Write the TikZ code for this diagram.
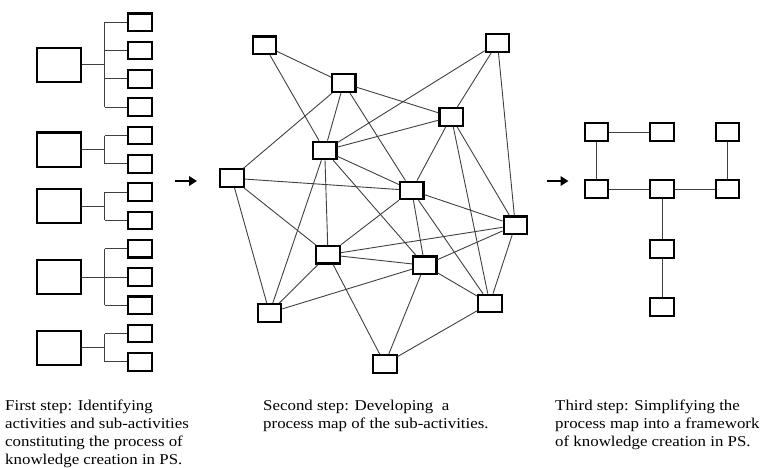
\documentclass[tikz,border=0pt]{standalone}
\usepackage{fontspec}
\setmainfont{Liberation Serif}[FakeStretch=1.125]
\usetikzlibrary{arrows.meta}
\begin{document}
\begin{tikzpicture}[x=1pt,y=-1pt,
  bigbox/.style={draw=black, line width=2.1pt, fill=white, minimum width=44.3pt, minimum height=34.3pt, inner sep=0pt},
  smallbox/.style={draw=black, line width=2.1pt, fill=white, minimum width=23.5pt, minimum height=17.6pt, inner sep=0pt},
  link/.style={draw=black!75, line width=0.9pt},
  stepArrow/.style={line width=2.8pt, -{Triangle[length=8pt,width=9.5pt]}},
  caption/.style={anchor=north west, align=left, inner sep=0pt, font=\fontsize{15}{18}\selectfont}]
\useasboundingbox (0,0) rectangle (769,467);

% ---------- activities and sub-activities ----------
\foreach \i/\y in {1/22.3,2/50.6,3/78.9,4/107.2,5/135.5,6/163.8,7/192.1,8/220.4,9/248.7,10/277.0,11/305.3,12/333.6,13/361.9}
  \node[smallbox] (s\i) at (140,\y) {};
\node[bigbox] (b1) at (59,64.75) {};
\node[bigbox] (b2) at (59,149.65) {};
\node[bigbox] (b3) at (59,206.25) {};
\node[bigbox] (b4) at (59,277.0) {};
\node[bigbox] (b5) at (59,347.75) {};

\foreach \b/\first/\last in {b1/1/4,b2/5/6,b3/7/8,b4/9/11,b5/12/13}{
  \draw[link] (\b.east) -- ++(22.7,0) coordinate (\b j);
  \draw[link] (\b j |- s\first.west) -- (\b j |- s\last.west);
  \foreach \k in {\first,...,\last}
    \draw[link] (\b j |- s\k.west) -- (s\k.west);
}

% ---------- step arrows ----------
\coordinate (arrA1) at (175,181);
\coordinate (arrA2) at (197,181);
\coordinate (arrB1) at (546.5,181);
\coordinate (arrB2) at (568.5,181);
\draw[stepArrow] (arrA1) -- (arrA2);
\draw[stepArrow] (arrB1) -- (arrB2);

% ---------- process map ----------
\node[smallbox] (A) at (264.3,45.3) {};
\node[smallbox] (B) at (343.7,83.2) {};
\node[smallbox] (C) at (324.7,150.5) {};
\node[smallbox] (D) at (231.8,178.2) {};
\node[smallbox] (E) at (497.5,42.8) {};
\node[smallbox] (F) at (451.2,116.8) {};
\node[smallbox] (G) at (411.7,190.4) {};
\node[smallbox] (H) at (515.3,225.3) {};
\node[smallbox] (I) at (424.7,265.3) {};
\node[smallbox] (J) at (489.8,303.5) {};
\node[smallbox] (K) at (384.8,363.9) {};
\node[smallbox] (L) at (328,254.7) {};
\node[smallbox] (M) at (269.5,312.8) {};

\foreach \u/\v in {A/B,A/C,B/C,B/D,B/F,B/G,C/E,C/F,C/G,C/L,C/M,C/I,
                   D/G,D/M,D/L,E/F,E/H,F/G,F/J,F/H,G/H,G/I,G/J,G/L,
                   H/I,H/J,H/L,I/J,I/K,I/L,I/M,J/K,K/L,L/M}
  \draw[link] (\u) -- (\v);

% ---------- simplified framework ----------
\node[smallbox] (P1) at (596.5,132) {};
\node[smallbox] (P2) at (662,132) {};
\node[smallbox] (P3) at (727.5,132) {};
\node[smallbox] (Q1) at (596.5,189) {};
\node[smallbox] (Q2) at (662,189) {};
\node[smallbox] (Q3) at (727.5,189) {};
\node[smallbox] (R) at (662,249) {};
\node[smallbox] (S) at (662,307) {};
\foreach \u/\v in {P1/P2,P1/Q1,P3/Q3,Q1/Q2,Q2/Q3,Q2/R,R/S}
  \draw[link] (\u) -- (\v);

% ---------- captions ----------
\node[caption] (t1) at (5,400) {First step: Identifying\\activities and sub-activities\\constituting the process of\\knowledge creation in PS.};
\node[caption] (t2) at (263,400) {Second step: Developing~ a\\process map of the sub-activities.};
\node[caption] (t3) at (555,400) {Third step: Simplifying the\\process map into a framework\\of knowledge creation in PS.};
\end{tikzpicture}
\end{document}
